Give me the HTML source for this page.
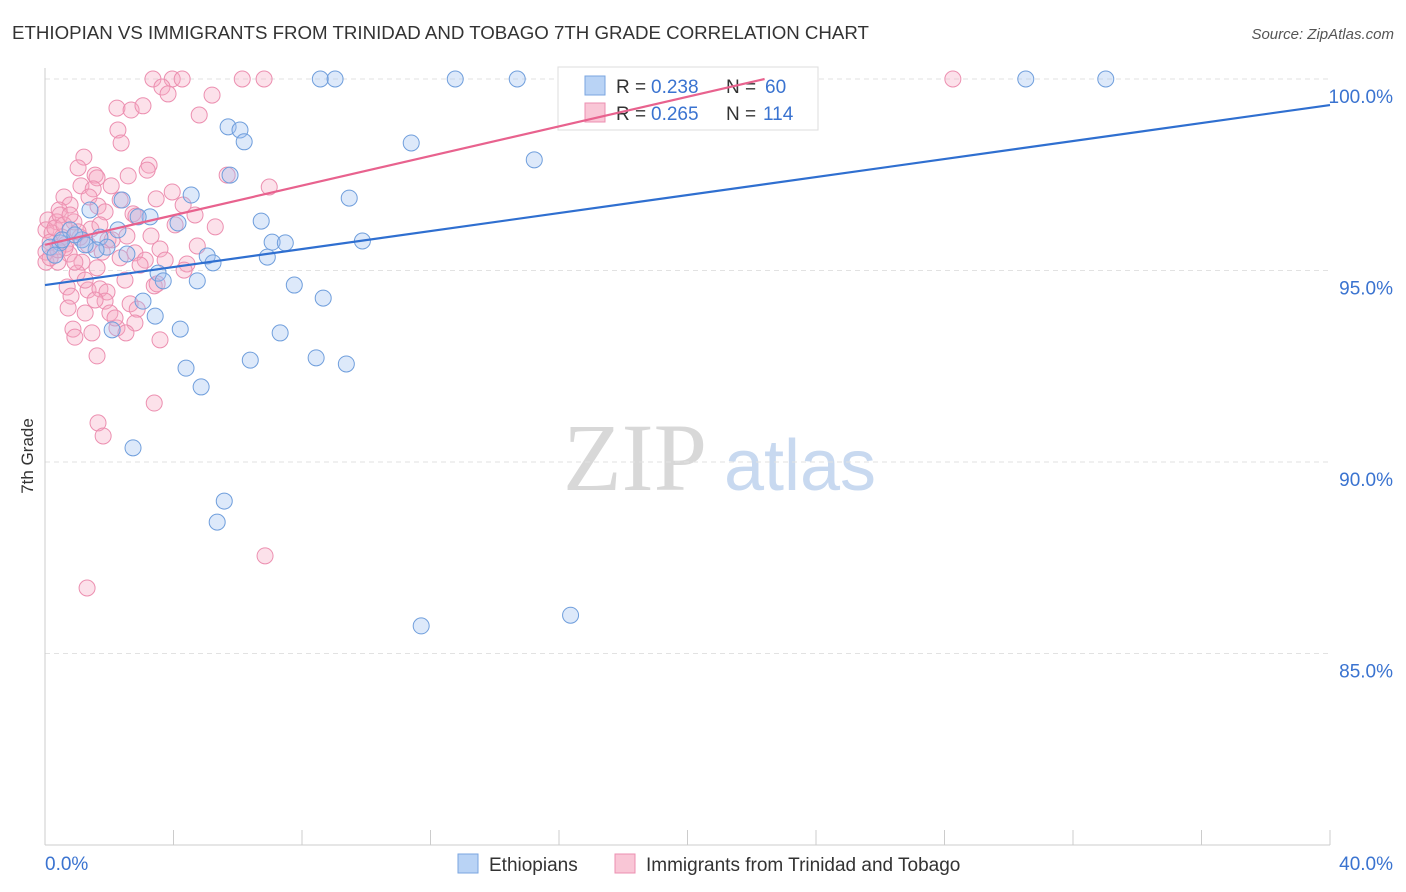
<!DOCTYPE html>
<html><head><meta charset="utf-8">
<style>
body{margin:0;background:#fff;font-family:"Liberation Sans",sans-serif;}
#wrap{position:relative;width:1406px;height:892px;overflow:hidden;}
svg text{font-family:"Liberation Sans",sans-serif;}
</style></head>
<body>
<div id="wrap">
<svg id="chart" width="1406" height="892">
<text x="12" y="39" font-size="18.7" fill="#333">ETHIOPIAN VS IMMIGRANTS FROM TRINIDAD AND TOBAGO 7TH GRADE CORRELATION CHART</text>
<text x="1394" y="39" font-size="15" fill="#555" text-anchor="end" font-style="italic">Source: ZipAtlas.com</text>
<text transform="translate(33,456) rotate(-90)" font-size="17" fill="#333" text-anchor="middle">7th Grade</text>
<g>
<text x="635" y="490" font-size="96" fill="#d8d8d8" text-anchor="middle" font-family="Liberation Serif" style="font-family:'Liberation Serif',serif">ZIP</text>
<text x="800" y="490" font-size="72" fill="#c8d9f0" text-anchor="middle">atlas</text>
</g>
<g id="grid"></g><g id="axes"></g><g id="pts"></g>
<g>
<rect x="558" y="67" width="260" height="63" fill="#fff" stroke="#ddd"/>
<rect x="585" y="76" width="20" height="19" fill="#b9d3f5" stroke="#7aa6e0"/>
<rect x="585" y="103" width="20" height="19" fill="#f9c6d6" stroke="#ec8fb0"/>
<text x="616" y="93" font-size="19" fill="#333">R =</text>
<text x="651" y="93" font-size="19" fill="#3a73d0">0.238</text>
<text x="726" y="93" font-size="19" fill="#333">N =</text>
<text x="765" y="93" font-size="19" fill="#3a73d0">60</text>
<text x="616" y="120" font-size="19" fill="#333">R =</text>
<text x="651" y="120" font-size="19" fill="#3a73d0">0.265</text>
<text x="726" y="120" font-size="19" fill="#333">N =</text>
<text x="763" y="120" font-size="19" fill="#3a73d0">114</text>
</g>
<g id="trend"></g>
<g>
<rect x="458" y="854" width="20" height="19" fill="#b9d3f5" stroke="#7aa6e0"/>
<text x="489" y="871" font-size="19" fill="#333">Ethiopians</text>
<rect x="615" y="854" width="20" height="19" fill="#f9c6d6" stroke="#ec8fb0"/>
<text x="646" y="871" font-size="19" fill="#333">Immigrants from Trinidad and Tobago</text>
</g>
</svg>
</div>
<script>
const yTicks=[100,95,90,85];
const yTickLabels=["100.0%","95.0%","90.0%","85.0%"];
const xTickLabels=["0.0%","40.0%"];
const blueX=[8.57,9.03,12.77,14.70,20.72,30.53,33.02,5.70,6.07,6.20,11.40,15.23,5.76,4.55,9.47,2.40,1.40,3.27,2.90,6.73,4.14,2.27,0.78,1.71,1.15,7.07,7.48,9.88,0.47,0.16,1.93,1.59,2.55,5.05,6.92,5.23,3.52,3.68,4.74,7.76,8.66,3.05,3.43,4.21,2.09,7.32,6.39,8.44,9.38,4.39,4.86,2.74,5.58,5.36,11.71,16.36,0.31,0.53,0.93,1.25];
const blueY=[100,100,100,100,100,100,100,98.75,98.67,98.36,98.33,97.89,97.49,96.97,96.89,96.84,96.58,96.40,96.40,96.29,96.24,96.06,96.06,95.87,95.80,95.74,95.72,95.77,95.72,95.61,95.61,95.54,95.43,95.38,95.35,95.20,94.93,94.73,94.73,94.62,94.28,94.20,93.81,93.47,93.45,93.37,92.66,92.72,92.56,92.45,91.96,90.37,88.98,88.43,85.72,86.00,95.40,95.80,95.93,95.67];
const pinkX=[3.36,3.96,4.27,6.14,6.82,28.26,3.64,3.83,5.20,2.24,2.68,3.05,4.80,2.27,2.37,1.21,1.03,3.24,3.18,2.59,1.56,1.62,5.67,6.98,1.12,2.06,1.50,3.96,0.59,1.37,3.46,4.30,0.78,1.65,0.44,1.87,2.74,4.67,2.83,0.09,0.37,0.90,4.05,5.30,1.43,2.55,3.30,0.03,0.22,0.53,1.09,1.96,0.16,0.65,3.58,4.74,0.03,0.75,1.78,2.80,2.34,0.03,0.40,1.15,4.42,1.62,4.33,1.00,3.12,0.69,1.34,1.71,3.40,3.49,1.93,0.81,1.87,2.65,0.72,1.25,2.02,2.87,2.80,2.24,2.52,0.87,0.93,1.46,3.58,1.62,3.40,1.65,1.81,6.85,1.31,0.47,0.31,0.62,0.93,1.25,1.56,2.18,2.49,2.96,0.16,0.40,0.59,0.78,1.03,1.34,1.71,2.09,2.34,3.74];
const pinkY=[100,100,100,100,100,100,99.79,99.61,99.58,99.24,99.19,99.30,99.06,98.67,98.33,97.96,97.68,97.75,97.62,97.47,97.49,97.42,97.49,97.18,97.21,97.21,97.13,97.05,96.92,96.92,96.87,96.71,96.71,96.68,96.58,96.53,96.48,96.45,96.42,96.32,96.27,96.27,96.19,96.14,96.08,95.90,95.90,96.06,95.98,95.87,95.87,95.80,95.74,95.69,95.56,95.64,95.48,95.43,95.48,95.46,95.33,95.22,95.22,95.22,95.17,95.07,95.01,94.93,95.27,94.57,94.49,94.52,94.60,94.65,94.44,94.33,94.20,94.13,94.02,93.89,93.89,93.99,93.63,93.50,93.37,93.47,93.26,93.37,93.19,92.77,91.54,91.02,90.68,87.55,86.71,96.45,96.11,95.59,95.22,94.75,94.23,93.76,94.75,95.14,95.33,95.54,96.19,96.45,96.01,95.67,96.19,95.80,96.84,95.27];
const blueTrendX=[0,40];
const blueTrendY=[94.62,99.32];
const pinkTrendX=[0,22.4];
const pinkTrendY=[95.67,100];

const NS="http://www.w3.org/2000/svg";
function xS(v){return 45+v/40*1285;}
function yS(v){return 79+(100-v)*38.3;}
function mk(tag,attrs,parent){const e=document.createElementNS(NS,tag);for(const k in attrs)e.setAttribute(k,attrs[k]);parent.appendChild(e);return e;}
const grid=document.getElementById('grid'),axes=document.getElementById('axes'),trend=document.getElementById('trend'),pts=document.getElementById('pts');
yTicks.forEach((t,i)=>{
  const l=mk('line',{x1:45,x2:1330,y1:yS(t),y2:yS(t),stroke:'#e2e2e2','stroke-dasharray':'5,4'},grid);
  
  
  const tx=mk('text',{x:1393,y:yS(t)+24,'font-size':19,fill:'#3a73d0','text-anchor':'end'},axes);
  tx.textContent=yTickLabels[i];
  
  
});
const ax=mk('line',{x1:45,x2:1330,y1:845,y2:845,stroke:'#ccc'},axes);


const ay=mk('line',{x1:45,x2:45,y1:68,y2:845,stroke:'#ccc'},axes);


for(let i=0;i<=10;i++){
  const tk=mk('line',{x1:xS(i*4),x2:xS(i*4),y1:830,y2:845,stroke:'#ccc'},axes);
  
  
}
[[0,'start',45],[1,'end',1393]].forEach(([i,a,x])=>{
  const tx=mk('text',{x:x,y:870,'font-size':19,fill:'#3a73d0','text-anchor':a},axes);
  tx.textContent=xTickLabels[i];
  
  
});
function drawPts(X,Y,fill,stroke,name){
  X.forEach((x,i)=>{
    const c=mk('circle',{cx:xS(x),cy:yS(Y[i]),r:8,fill:fill,'fill-opacity':0.35,stroke:stroke,'stroke-width':1},pts);
    
    
  });
}
drawPts(pinkX,pinkY,'#f5a9c2','#ec8fb0','point-trinidad');
drawPts(blueX,blueY,'#9dbff0','#6f9edc','point-ethiopians');
const bt=mk('line',{x1:xS(blueTrendX[0]),y1:yS(blueTrendY[0]),x2:xS(blueTrendX[1]),y2:yS(blueTrendY[1]),stroke:'#2f6fd0','stroke-width':2.2},trend);


const pt=mk('line',{x1:xS(pinkTrendX[0]),y1:yS(pinkTrendY[0]),x2:xS(pinkTrendX[1]),y2:yS(pinkTrendY[1]),stroke:'#e8628e','stroke-width':2.2},trend);


</script>
</body></html>
